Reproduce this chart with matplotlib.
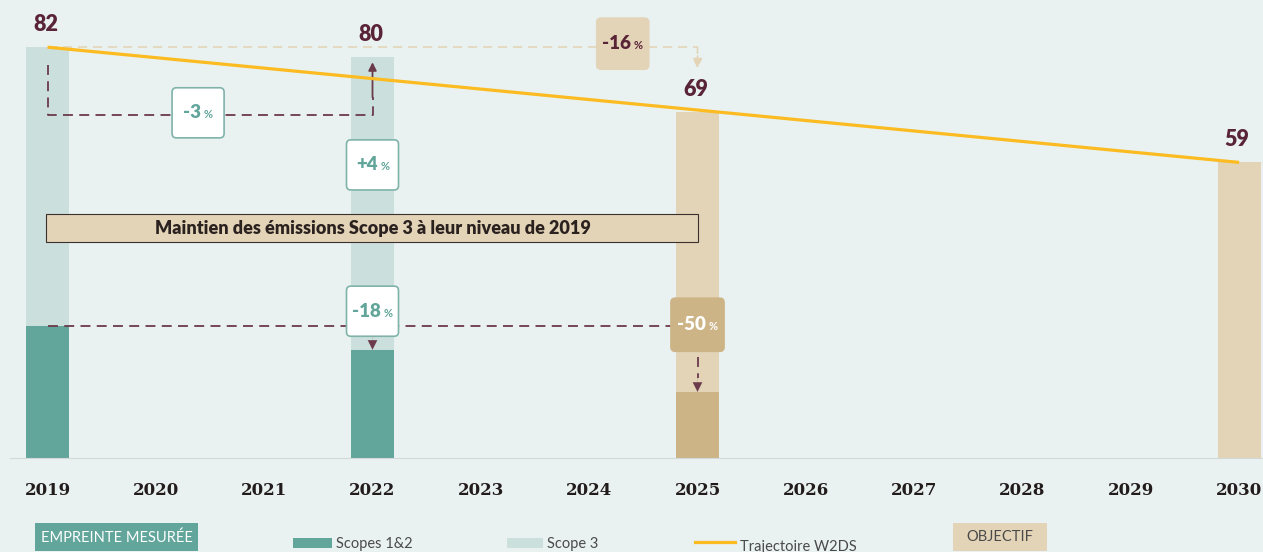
import numpy as np
import matplotlib.pyplot as plt
from matplotlib.patches import FancyBboxPatch, Rectangle
from matplotlib.lines import Line2D
from matplotlib.offsetbox import TextArea, HPacker, AnnotationBbox

# données (MtCO2e)
annees = list(range(2019, 2031))
annees_mesure = [2019, 2022]
scopes12_mesure = [26.3, 21.6]
scope3_mesure = [55.7, 58.4]
total_mesure = [82, 80]

annees_obj = [2025, 2030]
total_obj = [69, 59]
scopes12_obj_2025 = 13.2

traj_annees = [2019, 2030]
traj_valeurs = [82, 59]

# couleurs
fond = '#e9f2f0'
teal = '#62a59a'
teal_clair = '#cbe0dc'
beige = '#e3d4b8'
beige_fonce = '#cdb487'
jaune = '#fbbb21'
bordeaux = '#5a2437'
pointille = '#6b3a4b'

fig = plt.figure(figsize=(12.63, 5.52), dpi=100, facecolor=fond)
ax = fig.add_axes([0, 94/552, 1, 458/552], facecolor=fond)
ax.set_xlim(2018.5615, 2030.22)
ax.set_ylim(0, 458/5.01)

w = 0.40
# empreinte mesurée
ax.bar(annees_mesure, scopes12_mesure, width=w, color=teal, zorder=2)
ax.bar(annees_mesure, scope3_mesure, bottom=scopes12_mesure, width=w, color=teal_clair, zorder=2)
# objectifs
ax.bar(annees_obj, total_obj, width=w, color=beige, zorder=2)
ax.bar([2025], [scopes12_obj_2025], width=w, color=beige_fonce, zorder=2)

# trajectoire W2DS
ax.plot(traj_annees, traj_valeurs, color=jaune, lw=2.3, zorder=4, solid_capstyle='butt')

# étiquettes de valeurs
for x, v in zip(annees_mesure + annees_obj, total_mesure + total_obj):
    ax.annotate(str(v), xy=(x, v), xytext=(-1.5, 9), textcoords='offset points',
                ha='center', va='bottom', fontsize=15.5, fontweight='heavy',
                color=bordeaux, family='Lato', zorder=6)

dash = (0, (5.5, 3.5))

# -16 % : ligne beige
ax.plot([2019, 2025], [82, 82], color=beige, lw=1.2, ls=dash, zorder=1)
ax.annotate('', xy=(2025, 77.8), xytext=(2025, 82),
            arrowprops=dict(arrowstyle='-|>', color=beige, lw=1.2, ls='--',
                            mutation_scale=14, shrinkA=0, shrinkB=0), zorder=3)

# -3 % / +4 %
ax.plot([2019, 2019, 2022, 2022], [78.4, 68.5, 68.5, 72], color=pointille, lw=1.3, ls=dash, zorder=3)
ax.annotate('', xy=(2022, 79), xytext=(2022, 72),
            arrowprops=dict(arrowstyle='-|>', color=pointille, lw=1.3,
                            mutation_scale=12, shrinkA=0, shrinkB=0), zorder=3)

# -18 % / -50 % : ligne scopes 1&2
ax.plot([2019, 2024.8], [26.3, 26.3], color=pointille, lw=1.3, ls=dash, zorder=3)
ax.annotate('', xy=(2022, 21.6), xytext=(2022, 24.2),
            arrowprops=dict(arrowstyle='-|>', color=pointille, lw=0.1,
                            mutation_scale=17, shrinkA=0, shrinkB=0), zorder=3)
ax.plot([2025, 2025], [20.2, 16], color=pointille, lw=1.3, ls=dash, zorder=3)
ax.annotate('', xy=(2025, 13.2), xytext=(2025, 16),
            arrowprops=dict(arrowstyle='-|>', color=pointille, lw=0.1,
                            mutation_scale=17, shrinkA=0, shrinkB=0), zorder=3)


def boite_pct(xc, yc, num, fc, ec, tc, bw=0.48, bh=10.0):
    box = FancyBboxPatch((xc - bw/2, yc - bh/2), bw, bh,
                         boxstyle='round,pad=0,rounding_size=0.04',
                         mutation_aspect=21.7, fc=fc, ec=ec, lw=1.2, zorder=5)
    ax.add_patch(box)
    t1 = TextArea(num, textprops=dict(fontsize=13.5, fontweight='heavy', color=tc, family='Lato'))
    t2 = TextArea('%', textprops=dict(fontsize=8, fontweight='bold', color=tc, family='Lato'))
    pack = HPacker(children=[t1, t2], align='baseline', pad=0, sep=2)
    ab = AnnotationBbox(pack, (xc, yc), frameon=False, box_alignment=(0.5, 0.5), zorder=6)
    ax.add_artist(ab)


boite_pct(2024.31, 82.7, '-16', beige, beige, bordeaux, bh=10.2)
boite_pct(2020.39, 68.9, '-3', 'white', '#7fb3aa', teal)
boite_pct(2022.0, 58.5, '+4', 'white', '#7fb3aa', teal)
boite_pct(2022.0, 29.3, '-18', 'white', '#7fb3aa', teal)
boite_pct(2025.0, 26.6, '-50', beige_fonce, beige_fonce, 'white', bw=0.49, bh=10.6)

# bandeau scope 3
ax.add_patch(Rectangle((2018.99, 43.1), 6.01, 5.6, fc=beige, ec='#3b3030', lw=0.8, zorder=5))
ax.text(2022.0, 45.9, 'Maintien des émissions Scope 3 à leur niveau de 2019',
        ha='center', va='center', fontsize=13, fontweight='heavy', color='#2b2220',
        family='Lato', zorder=6)

# axes
for s in ['top', 'right', 'left']:
    ax.spines[s].set_visible(False)
ax.spines['bottom'].set_color('#d3d8d8')
ax.spines['bottom'].set_bounds(2018.65, 2030.22)
ax.set_yticks([])
ax.set_xticks(annees)
ax.set_xticklabels([str(a) for a in annees], fontsize=12, fontweight='bold',
                   family='DejaVu Serif', color='#231c1c')
ax.tick_params(axis='x', length=0, pad=17)

# légende
def px(x, y):
    return x / 1263, 1 - y / 552

fig.patches.append(Rectangle(px(35, 551), 163/1263, 28/552, transform=fig.transFigure,
                             fc=teal, ec='none'))
fig.text(*px(116.5, 538), 'EMPREINTE MESURÉE', ha='center', va='center',
         fontsize=10.5, color='white', family='Lato')
fig.patches.append(Rectangle(px(293, 548), 39/1263, 10/552, transform=fig.transFigure,
                             fc=teal, ec='none'))
fig.text(*px(336, 544), 'Scopes 1&2', ha='left', va='center', fontsize=10.5,
         color='#4a4a4a', family='Lato')
fig.patches.append(Rectangle(px(507, 548), 36/1263, 10/552, transform=fig.transFigure,
                             fc=teal_clair, ec='none'))
fig.text(*px(547, 544), 'Scope 3', ha='left', va='center', fontsize=10.5,
         color='#4a4a4a', family='Lato')
fig.lines.append(Line2D([695/1263, 735/1263], [1 - 542/552] * 2, transform=fig.transFigure,
                        color=jaune, lw=2.3))
fig.text(*px(740, 547), 'Trajectoire W2DS', ha='left', va='center', fontsize=10.5,
         color='#4a4a4a', family='Lato')
fig.patches.append(Rectangle(px(953, 551), 94/1263, 28/552, transform=fig.transFigure,
                             fc=beige, ec='none'))
fig.text(*px(1000, 537), 'OBJECTIF', ha='center', va='center', fontsize=10.5,
         color='#4a4a4a', family='Lato')

fig.savefig('out.png', dpi=100, facecolor=fond)
